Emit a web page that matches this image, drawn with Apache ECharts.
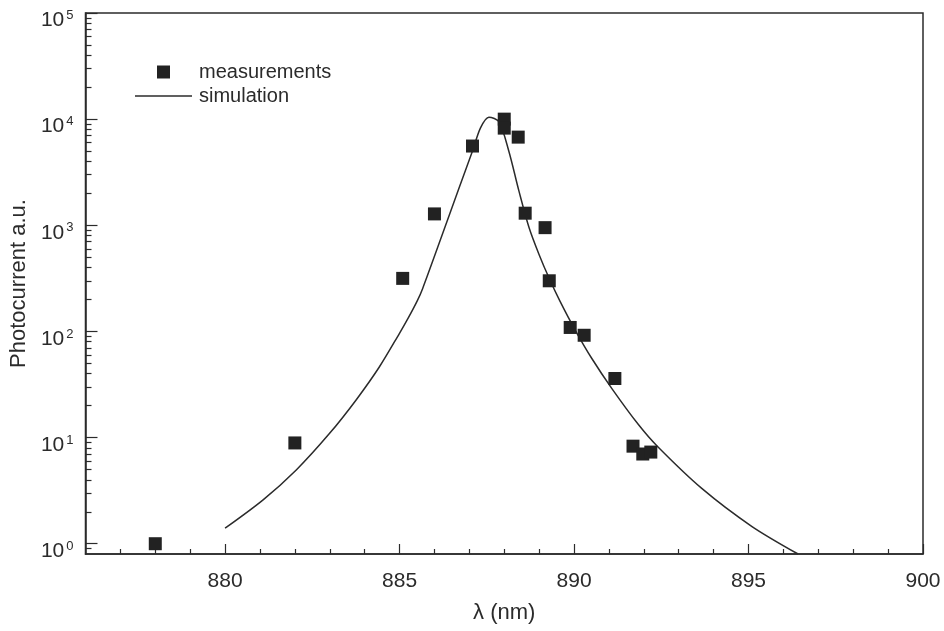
<!DOCTYPE html>
<html>
<head>
<meta charset="utf-8">
<script src="https://cdn.jsdelivr.net/npm/echarts@6/dist/echarts.min.js"></script>
<style>html,body{margin:0;padding:0;background:#fff}#c{width:944px;height:631px}</style>
</head>
<body>
<div id="c"></div>
<script>
// Measurements (wavelength nm, photocurrent a.u.)
const measX = [878, 882, 885.09, 886.0, 887.09, 888.0, 888.0, 888.4, 888.6, 889.17, 889.29, 889.89, 890.29, 891.17, 891.69, 891.97, 892.2];
const measY = [1.0, 8.9, 316, 1280, 5580, 10000, 8230, 6770, 1300, 950, 300, 109, 92, 36, 8.3, 7.0, 7.3];
// Simulation curve
const simX = [880, 881.09, 882.04, 882.99, 883.75, 884.42, 884.99, 885.25, 885.51, 885.66, 886.23, 886.71, 887.09, 887.32, 887.56, 887.85, 888.13, 888.42, 888.71, 889.0, 889.29, 889.6, 890.04, 890.51, 891.09, 891.85, 892.4, 893.66, 895.09, 896.42];
const simY = [1.40, 2.59, 4.95, 10.9, 22.5, 46.2, 95, 134, 195, 253, 827, 2265, 5010, 8285, 10440, 9440, 5010, 2110, 953, 528, 315, 192, 102, 55.6, 28.8, 13.2, 8.2, 3.32, 1.46, 0.8];
// Tick values
const xMajor = [880, 885, 890, 895, 900];
const xMinor = [877, 878, 879, 881, 882, 883, 884, 886, 887, 888, 889, 891, 892, 893, 894, 896, 897, 898, 899];
const yMajor = [1, 10, 100, 1000, 10000, 100000];
const yMinorFactors = [2, 3, 4, 5, 6, 7, 8, 9];
const yMinor = [0.9];
[1, 10, 100, 1000, 10000].forEach(d => yMinorFactors.forEach(f => yMinor.push(f * d)));

const FONT = 'Liberation Sans, Arial, Helvetica, sans-serif';
const INK = '#2b2b2b';

const chart = echarts.init(document.getElementById('c'), null, {renderer: 'canvas'});
chart.setOption({
  backgroundColor: '#fff',
  animation: false,
  textStyle: {fontFamily: FONT, color: INK},
  grid: {left: 82, top: 13, right: 21, bottom: 77, show: true, borderColor: INK, borderWidth: 1.5, backgroundColor: 'transparent'},
  legend: {
    orient: 'vertical', left: 135, top: 62, padding: 0, itemWidth: 57, itemHeight: 13, itemGap: 4,
    textStyle: {fontSize: 20, color: INK, fontFamily: FONT, padding: [0, 0, 0, 2]},
    data: [
      {name: 'measurements', icon: 'path://M0,0H10V10H0Z'},
      {name: 'simulation', icon: 'path://M0,0H100V2.4H0Z'}
    ]
  },
  xAxis: [{
    type: 'value', min: 876, max: 900,
    name: 'λ (nm)', nameLocation: 'middle', nameGap: 48,
    nameTextStyle: {fontSize: 22, color: INK, fontFamily: FONT},
    axisLine: {lineStyle: {color: INK, width: 1.5}},
    axisTick: {inside: true, length: 10, lineStyle: {color: INK, width: 1.2}, customValues: xMajor},
    axisLabel: {fontSize: 21, color: INK, margin: 17, customValues: xMajor},
    splitLine: {show: false}
  }, {
    type: 'value', min: 876, max: 900, position: 'bottom',
    axisLine: {show: false},
    axisTick: {inside: true, length: 5, lineStyle: {color: INK, width: 1.2}, customValues: xMinor},
    axisLabel: {show: false},
    splitLine: {show: false}
  }],
  yAxis: [{
    type: 'log', min: 0.8, max: 100000, logBase: 10,
    name: 'Photocurrent a.u.', nameLocation: 'middle', nameGap: 52, nameRotate: 90,
    nameTextStyle: {fontSize: 22, color: INK, fontFamily: FONT},
    axisLine: {lineStyle: {color: INK, width: 1.5}},
    axisTick: {inside: true, length: 12, lineStyle: {color: INK, width: 1.2}, customValues: yMajor},
    axisLabel: {
      customValues: yMajor, margin: 12, padding: [14, 0, 0, 0],
      formatter: v => '{b|10}{s|' + Math.round(Math.log10(v)) + '}',
      rich: {
        b: {fontSize: 21, color: INK, fontFamily: FONT, lineHeight: 22, verticalAlign: 'bottom'},
        s: {fontSize: 13, color: INK, fontFamily: FONT, lineHeight: 13, verticalAlign: 'top', padding: [0, 0, 0, 2]}
      }
    },
    splitLine: {show: false}
  }, {
    type: 'log', min: 0.8, max: 100000, logBase: 10, position: 'left',
    axisLine: {show: false},
    axisTick: {inside: true, length: 6, lineStyle: {color: INK, width: 1.2}, customValues: yMinor},
    axisLabel: {show: false},
    splitLine: {show: false}
  }],
  series: [{
    name: 'measurements', type: 'scatter', symbol: 'rect', symbolSize: 13,
    itemStyle: {color: '#222', opacity: 1},
    data: measX.map((x, i) => [x, measY[i]]),
    z: 3
  }, {
    name: 'simulation', type: 'line', symbol: 'none', showSymbol: false,
    smooth: 0.3,
    lineStyle: {color: INK, width: 1.5},
    itemStyle: {color: INK},
    data: simX.map((x, i) => [x, simY[i]]),
    z: 2
  }]
});
</script>
</body>
</html>
